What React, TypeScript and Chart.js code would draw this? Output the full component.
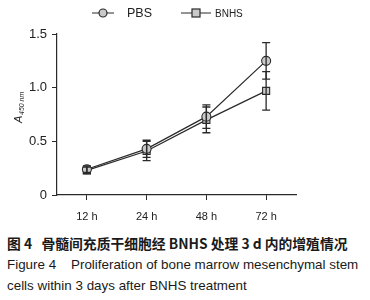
import React, { useEffect, useRef } from "react";
import { Chart, registerables } from "chart.js";
Chart.register(...registerables);

const categories = ["12 h", "24 h", "48 h", "72 h"];
const pbsValues = [0.24, 0.43, 0.73, 1.25];
const pbsErrors = [0.03, 0.08, 0.11, 0.17];
const bnhsValues = [0.23, 0.41, 0.70, 0.97];
const bnhsErrors = [0.03, 0.09, 0.12, 0.18];
const yTicks = [0, 0.5, 1.0, 1.5];

const INK = "#2a2a2a";
const FILL = "#c9c9cb";

const errorBars = {
  id: "errorBars",
  afterDatasetsDraw(chart: any) {
    const ctx = chart.ctx;
    const y = chart.scales.y;
    const errs = [pbsErrors, bnhsErrors];
    ctx.save();
    ctx.strokeStyle = INK;
    ctx.lineWidth = 1.3;
    chart.data.datasets.forEach((ds: any, di: number) => {
      const meta = chart.getDatasetMeta(di);
      meta.data.forEach((pt: any, i: number) => {
        const v = ds.data[i];
        const e = errs[di][i];
        const x = pt.x;
        const yt = y.getPixelForValue(v + e);
        const yb = y.getPixelForValue(v - e);
        ctx.beginPath();
        ctx.moveTo(x, yt);
        ctx.lineTo(x, yb);
        ctx.moveTo(x - 4, yt);
        ctx.lineTo(x + 4, yt);
        ctx.moveTo(x - 4, yb);
        ctx.lineTo(x + 4, yb);
        ctx.stroke();
      });
    });
    ctx.restore();
  },
};

const decor = {
  id: "decor",
  afterDraw(chart: any) {
    const ctx = chart.ctx;
    ctx.save();
    // legend
    const ly = 13;
    ctx.strokeStyle = INK;
    ctx.lineWidth = 1.2;
    ctx.beginPath();
    ctx.moveTo(92, ly);
    ctx.lineTo(114, ly);
    ctx.moveTo(181, ly);
    ctx.lineTo(211, ly);
    ctx.stroke();
    ctx.fillStyle = FILL;
    ctx.beginPath();
    ctx.arc(103, ly, 4, 0, Math.PI * 2);
    ctx.fill();
    ctx.stroke();
    ctx.fillRect(192, ly - 4, 8, 8);
    ctx.strokeRect(192, ly - 4, 8, 8);
    ctx.fillStyle = "#222";
    ctx.textBaseline = "middle";
    ctx.textAlign = "left";
    ctx.font = "12.5px Arial, 'Liberation Sans', sans-serif";
    ctx.fillText("PBS", 127, ly + 1);
    ctx.font = "10px Arial, 'Liberation Sans', sans-serif";
    ctx.fillText("BNHS", 215, ly + 1);
    // y title
    ctx.translate(19, 107);
    ctx.rotate(-Math.PI / 2);
    ctx.textAlign = "left";
    ctx.font = "italic 11px Arial, 'Liberation Sans', sans-serif";
    ctx.fillText("A", -16, 0);
    ctx.font = "italic 7px Arial, 'Liberation Sans', sans-serif";
    ctx.fillText("450 nm", -8, 3);
    ctx.restore();
  },
};

export default function App() {
  const ref = useRef<HTMLCanvasElement>(null);
  useEffect(() => {
    const chart = new Chart(ref.current!, {
      type: "line",
      data: {
        labels: categories,
        datasets: [
          {
            label: "PBS",
            data: pbsValues,
            borderColor: INK,
            borderWidth: 1.2,
            backgroundColor: FILL,
            pointStyle: "circle",
            pointRadius: 4.5,
            pointBorderWidth: 1.1,
            pointBorderColor: INK,
            pointBackgroundColor: FILL,
          },
          {
            label: "BNHS",
            data: bnhsValues,
            borderColor: INK,
            borderWidth: 1.2,
            backgroundColor: FILL,
            pointStyle: "rect",
            pointRadius: 5,
            pointBorderWidth: 1.1,
            pointBorderColor: INK,
            pointBackgroundColor: FILL,
          },
        ],
      },
      options: {
        animation: false,
        responsive: false,
        layout: { padding: { left: 0, right: 74, top: 34, bottom: 0 } },
        plugins: { legend: { display: false }, tooltip: { enabled: false } },
        scales: {
          x: {
            offset: true,
            grid: { drawOnChartArea: false, drawTicks: true, tickLength: 5, color: INK, offset: false },
            border: { display: true, color: INK, width: 1.2 },
            ticks: {
              color: "#222",
              padding: 10,
              font: { family: "Arial, 'Liberation Sans', sans-serif", size: 11 },
            },
            afterFit: (s: any) => {
              s.height = 35;
            },
          },
          y: {
            min: 0,
            max: 1.5,
            afterBuildTicks: (s: any) => {
              s.ticks = yTicks.map((v) => ({ value: v }));
            },
            grid: { drawOnChartArea: false, drawTicks: true, tickLength: 5, color: INK },
            border: { display: true, color: INK, width: 1.2 },
            ticks: {
              color: "#222",
              padding: 5,
              font: { family: "Arial, 'Liberation Sans', sans-serif", size: 13 },
              callback: (v: any) => (v === 0 ? "0" : Number(v).toFixed(1)),
            },
            afterFit: (s: any) => {
              s.width = 57;
            },
          },
        },
      },
      plugins: [errorBars, decor],
    });
    return () => chart.destroy();
  }, []);

  const cap: React.CSSProperties = {
    position: "absolute",
    left: 7,
    fontFamily: "Arial, 'Liberation Sans', 'Noto Sans CJK SC', sans-serif",
    color: "#1a1a1a",
    whiteSpace: "nowrap",
    margin: 0,
    lineHeight: "18px",
  };
  return (
    <div style={{ position: "fixed", left: 0, top: 0, width: 370, height: 300, background: "#fff" }}>
      <canvas ref={ref} width={370} height={230} style={{ display: "block" }} />
      <div style={{ ...cap, top: 234, fontSize: 13.8, fontWeight: "bold", fontFamily: "'Noto Sans CJK SC', Arial, sans-serif" }}>
        图 4&nbsp;&nbsp;&nbsp;骨髓间充质干细胞经 BNHS 处理 3 d 内的增殖情况
      </div>
      <div style={{ ...cap, top: 256, fontSize: 13.4 }}>
        Figure 4&nbsp;&nbsp;&nbsp;&nbsp;Proliferation of bone marrow mesenchymal stem
      </div>
      <div style={{ ...cap, top: 277, fontSize: 13.4 }}>cells within 3 days after BNHS treatment</div>
    </div>
  );
}
